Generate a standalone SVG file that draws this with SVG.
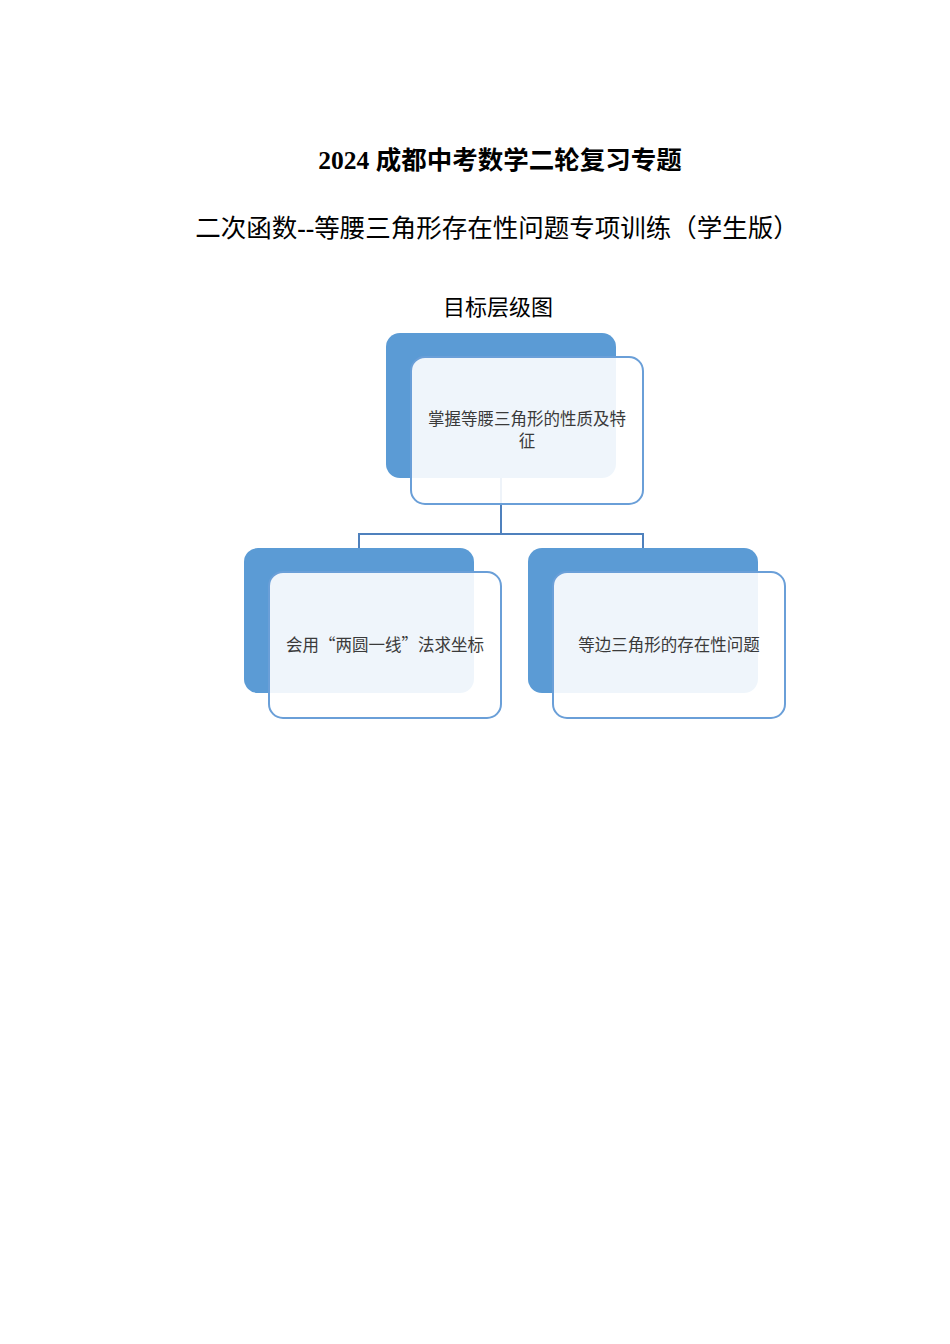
<svg xmlns="http://www.w3.org/2000/svg" width="950" height="1344" viewBox="0 0 950 1344">
<style>
.title{font-family:"Noto Sans CJK SC","Liberation Serif",sans-serif;fill:#000}
.num{font-family:"Liberation Serif","Noto Sans CJK SC",serif;font-weight:bold}
.back{fill:#5b9bd5}
.front{fill:#ffffff;fill-opacity:0.9;stroke:#6a9fd8;stroke-width:2}
.lbl{font-family:"Noto Sans CJK SC","Liberation Serif",serif;font-size:16.5px;fill:#3a3a3a;text-anchor:middle}
.conn{fill:none;stroke:#4f81bd;stroke-width:2}
</style>
<rect width="950" height="1344" fill="#ffffff"/>
<text class="title" x="500" y="169" text-anchor="middle" font-size="25.5" font-weight="bold"><tspan class="num">2024 </tspan>成都中考数学二轮复习专题</text>
<text class="title" x="497" y="237" text-anchor="middle" font-size="25.5">二次函数<tspan class="num">--</tspan>等腰三角形存在性问题专项训练（学生版）</text>
<text class="title" x="498" y="315" text-anchor="middle" font-size="22">目标层级图</text>
<g id="connectors">
<path class="conn" d="M501 478 V534 M359 548 V534 H643 V548"/>
</g>
<g id="node-top">
<rect class="back" x="386" y="333" width="230" height="145" rx="14"/>
<rect class="front" x="411" y="357" width="232" height="147" rx="14"/>
<text class="lbl" x="527" y="425" style="font-family:'Liberation Serif','Noto Sans CJK SC',serif">掌握等腰三角形的性质及特<tspan x="527" dy="22">征</tspan></text>
</g>
<g id="node-left">
<rect class="back" x="244" y="548" width="230" height="145" rx="14"/>
<rect class="front" x="269" y="572" width="232" height="146" rx="14"/>
<text class="lbl" x="385" y="651">会用“两圆一线”法求坐标</text>
</g>
<g id="node-right">
<rect class="back" x="528" y="548" width="230" height="145" rx="14"/>
<rect class="front" x="553" y="572" width="232" height="146" rx="14"/>
<text class="lbl" x="669" y="651">等边三角形的存在性问题</text>
</g>
</svg>
